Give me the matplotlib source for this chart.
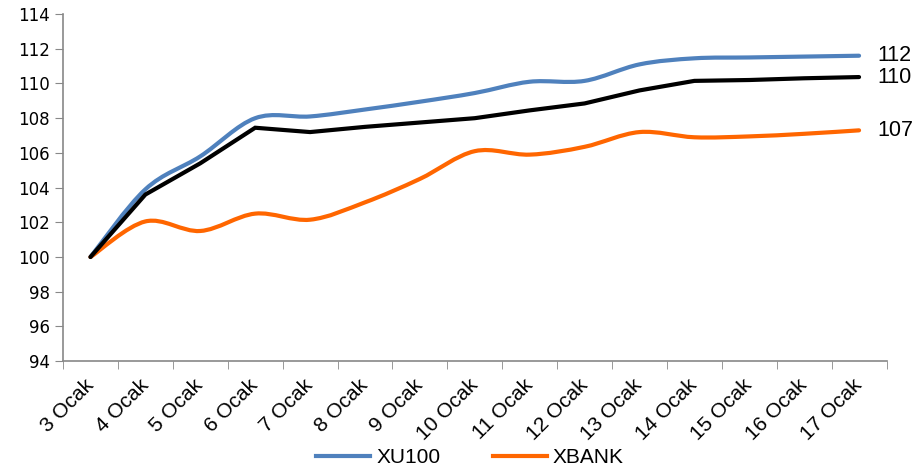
import matplotlib.pyplot as plt
from matplotlib.path import Path
from matplotlib.patches import PathPatch
import numpy as np

days = ['3 Ocak', '4 Ocak', '5 Ocak', '6 Ocak', '7 Ocak', '8 Ocak', '9 Ocak', '10 Ocak',
        '11 Ocak', '12 Ocak', '13 Ocak', '14 Ocak', '15 Ocak', '16 Ocak', '17 Ocak']
xu100 = [100, 103.9, 105.8, 108.0, 108.1, 108.5, 108.95, 109.45, 110.1, 110.15, 111.1, 111.45, 111.5, 111.55, 111.6]
xbank = [100, 102.05, 101.5, 102.5, 102.15, 103.15, 104.5, 106.1, 105.9, 106.35, 107.2, 106.9, 106.95, 107.1, 107.3]
other = [100, 103.6, 105.4, 107.45, 107.2, 107.5, 107.75, 108.0, 108.45, 108.85, 109.6, 110.15, 110.2, 110.3, 110.37]
end_labels = ['112', '110', '107']

narrow = ['Liberation Sans', 'DejaVu Sans']


def smooth_line(ax, x, y, color, lw):
    # excel-like smoothed line: catmull-rom as cubic bezier segments
    x = np.asarray(x, float)
    y = np.asarray(y, float)
    pts = np.column_stack([x, y])
    verts = [pts[0]]
    codes = [Path.MOVETO]
    n = len(pts)
    for i in range(n - 1):
        p0 = pts[i - 1] if i > 0 else pts[i]
        p1 = pts[i]
        p2 = pts[i + 1]
        p3 = pts[i + 2] if i + 2 < n else pts[i + 1]
        c1 = p1 + (p2 - p0) / 6
        c2 = p2 - (p3 - p1) / 6
        verts += [c1, c2, p2]
        codes += [Path.CURVE4] * 3
    patch = PathPatch(Path(verts, codes), facecolor='none', edgecolor=color,
                      lw=lw, capstyle='round', joinstyle='round')
    ax.add_patch(patch)


fig = plt.figure(figsize=(9.16, 4.69), dpi=100)
ax = fig.add_axes([0.0688, 0.230, 0.899, 0.740])

x = np.arange(len(days))
ax.plot(x, other, color='black', lw=3, solid_joinstyle='miter', solid_capstyle='round')
smooth_line(ax, x, xu100, '#4F81BD', 3)
smooth_line(ax, x, xbank, '#FF6600', 3)

# legend proxies
ax.plot([], [], color='#4F81BD', lw=3, label='XU100')
ax.plot([], [], color='#FF6600', lw=3, label='XBANK')

ax.set_xlim(-0.5, len(days) - 0.5)
ax.set_ylim(94, 114)
ax.set_yticks(np.arange(94, 115, 2))
ax.set_xticks(x)
ax.set_xticklabels(days, rotation=45, ha='right', va='center', rotation_mode='anchor',
                   fontsize=15, family=narrow)
ax.set_xticks(np.arange(-0.5, len(days), 1), minor=True)
ax.tick_params(axis='x', which='major', length=0, pad=15)
ax.tick_params(axis='x', which='minor', length=6, color='#888888')
ax.tick_params(axis='y', length=6, color='#888888', labelsize=12)

for s in ['top', 'right']:
    ax.spines[s].set_visible(False)
for s in ['left', 'bottom']:
    ax.spines[s].set_color('#888888')
    ax.spines[s].set_linewidth(1.2)

for val, lab in zip([xu100[-1], other[-1], xbank[-1]], end_labels):
    ax.annotate(lab, xy=(x[-1], val), xytext=(13, 0), textcoords='offset points',
                va='center', ha='left', fontsize=15.5, family=narrow, annotation_clip=False)

fig.legend(loc='center', bbox_to_anchor=(0.513, 0.024), ncol=2, frameon=False,
           prop={'family': narrow, 'size': 15}, handlelength=2.6, handletextpad=0.3,
           columnspacing=2.5)

fig.savefig('out.png', dpi=100)
